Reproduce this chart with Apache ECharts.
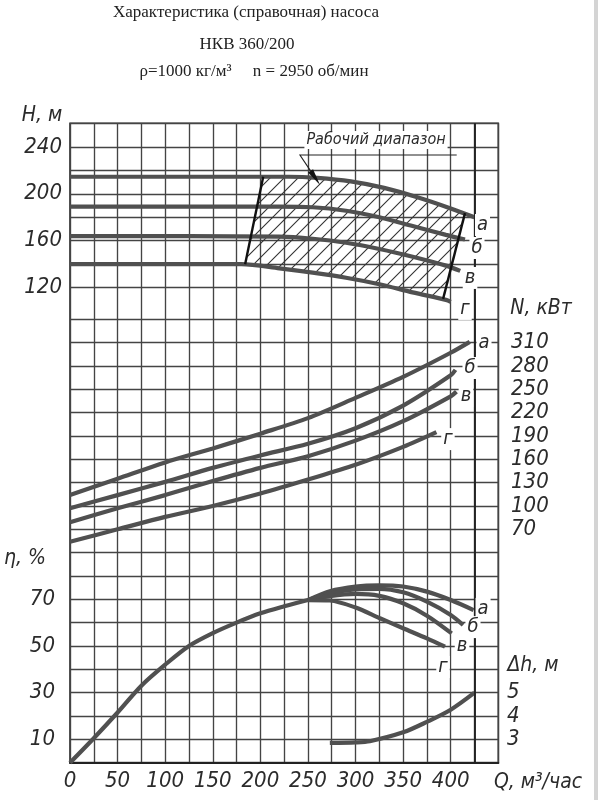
<!DOCTYPE html>
<html>
<head>
<meta charset="utf-8">
<title>НКВ 360/200</title>
<script src="https://cdn.jsdelivr.net/npm/echarts@6.0.0/dist/echarts.min.js"></script>
<style>
    html, body { margin: 0; padding: 0; background: #fff; }
    #chart { width: 598px; height: 800px; }
</style>
</head>
<body>
<div id="chart"></div>
<script>
// напор H, м  (Q, м3/час -> H)
var headA = [[0, 214.5], [230, 214.5], [260, 213.5], [295, 210.5], [330, 205], [365, 197], [400, 187.5], [425, 180]];
var headB = [[0, 189], [220, 189], [255, 188.5], [290, 185.5], [325, 180], [360, 172.5], [395, 165], [415, 161]];
var headV = [[0, 164], [220, 163.5], [255, 161.7], [290, 158.3], [325, 153], [360, 146.4], [395, 138.8], [410, 134.3]];
var headG = [[0, 140], [180, 140], [220, 136.5], [255, 132.8], [290, 128.5], [325, 123], [360, 116], [395, 109.6], [400, 108]];
// границы рабочего диапазона
var zoneLeft = [[203, 214.5], [184, 140]];
var zoneRight = [[415, 183.5], [392, 110.5]];

// мощность N, кВт
var powerA = [[0, 114], [50, 135], [100, 156], [150, 174], [200, 193], [250, 213], [300, 239], [350, 266], [400, 297], [420, 311]];
var powerB = [[0, 97], [50, 114], [100, 131], [150, 149], [200, 165], [250, 180], [300, 200], [350, 229], [400, 268], [405, 275]];
var powerV = [[0, 79], [50, 97], [100, 114], [150, 132], [200, 149], [250, 164], [300, 184], [350, 209], [400, 241], [406, 247]];
var powerG = [[0, 54], [50, 70], [100, 86], [150, 100], [200, 116], [250, 134], [300, 153], [350, 176], [385, 195]];

// КПД, %
var effBase = [[0, 0], [25, 10.5], [50, 21.5], [75, 33], [100, 42], [125, 50], [150, 55.5], [175, 60], [200, 64], [225, 67], [250, 69.7]];
var effA = [[250, 69.7], [273, 73.5], [300, 75.5], [325, 76], [350, 75.5], [375, 73.3], [400, 69.7], [424, 65.4]];
var effB = [[250, 69.7], [273, 72.5], [300, 74.3], [325, 74.5], [350, 73], [375, 69], [400, 63.3], [413, 59]];
var effV = [[250, 69.7], [273, 71.4], [300, 72.3], [325, 71.5], [350, 68.3], [375, 63], [401, 55.4]];
var effG = [[250, 69.7], [273, 69.5], [300, 66.5], [325, 62], [350, 57.6], [375, 53.3], [394, 49.7]];

// допускаемый кавитационный запас, м
var npsh = [[273, 2.85], [300, 2.87], [315, 2.92], [350, 3.3], [375, 3.75], [400, 4.27], [425, 5.0]];

// подписи шкал
var qLabels = [0, 50, 100, 150, 200, 250, 300, 350, 400];
var hLabels = [120, 160, 200, 240];
var nLabels = [70, 100, 130, 160, 190, 220, 250, 280, 310];
var etaLabels = [10, 30, 50, 70];
var dhLabels = [3, 4, 5];

// обозначения кривых и где их подписать
var curveNames = ['а', 'б', 'в', 'г'];
var headTags = [[433.4, 173.4], [427.6, 153.8], [420.3, 128.3], [415, 101.9]];
var powerTags = [[435, 309.5], [420.3, 277.4], [416, 241.4], [397.1, 186]];
var effTags = [[434, 65.9], [423.4, 58.1], [411.9, 50], [391.9, 41]];
// выноска "Рабочий диапазон"
var zoneNote = { text: 'Рабочий диапазон', at: [321.5, 245.8], line: [[406.3, 233], [241.6, 233]], tip: [262.7, 207.5] };

(function () {
    var myChart = echarts.init(document.getElementById('chart'));
    var ink = '#2b2b2b';
    var curveColor = '#505050';
    var gridColor = '#444';
    var drawFont = '"DejaVu Sans Condensed", "Liberation Sans Narrow", "DejaVu Sans", sans-serif';

    var plotLeft = 70, plotWidth = 428.3;

    // штриховка рабочей зоны
    var hatch = document.createElement('canvas');
    hatch.width = 14; hatch.height = 14;
    var ctx = hatch.getContext('2d');
    ctx.strokeStyle = '#333';
    ctx.lineWidth = 1.1;
    ctx.beginPath();
    ctx.moveTo(0, 14); ctx.lineTo(14, 0);
    ctx.moveTo(-2, 2); ctx.lineTo(2, -2);
    ctx.moveTo(12, 16); ctx.lineTo(16, 12);
    ctx.stroke();

    function zonePolygon() {
        var top = headA.filter(function (p) { return p[0] > zoneLeft[0][0] && p[0] < zoneRight[0][0]; });
        var bottom = headG.filter(function (p) { return p[0] > zoneLeft[1][0] && p[0] < zoneRight[1][0]; }).reverse();
        return [zoneLeft[0]].concat(top, [zoneRight[0], zoneRight[1]], bottom, [zoneLeft[1]]);
    }

    function curve(data, yIndex, z) {
        return {
            type: 'line', xAxisIndex: yIndex === 1 ? 1 : 2, yAxisIndex: yIndex,
            data: data, symbol: 'none', smooth: 0.3,
            clip: false, silent: true, z: z || 3,
            lineStyle: { color: curveColor, width: 4.2 }
        };
    }
    function border(data) {
        return {
            type: 'line', xAxisIndex: 1, yAxisIndex: 1, data: data, symbol: 'none',
            clip: false, silent: true, z: 4, lineStyle: { color: '#111', width: 2.4 }
        };
    }
    // оси только задают масштаб и сетку, подписи делений рисуются курсивом ниже
    function scale(grid, min, max, interval, pos, split) {
        return {
            gridIndex: grid, type: 'value', min: min, max: max, interval: interval, position: pos,
            axisLine: { show: false }, axisTick: { show: false }, axisLabel: { show: false },
            splitLine: { show: !!split, lineStyle: { color: gridColor, width: 1.35 } }
        };
    }

    var option = {
        animation: false,
        backgroundColor: '#fff',
        grid: [
            { left: plotLeft, top: 123.3, width: plotWidth, height: 639.4, show: true, borderColor: '#2a2a2a', borderWidth: 1.6 },
            { left: plotLeft, top: 123.3, width: plotWidth, height: 164.4 },
            { left: plotLeft, top: 319.3, width: plotWidth, height: 443.4 }
        ],
        xAxis: [
            {
                gridIndex: 0, type: 'value', min: 0, max: 450, interval: 25,
                axisLine: { show: true, lineStyle: { color: '#222', width: 2 } },
                axisTick: { show: false }, axisLabel: { show: false },
                splitLine: { show: true, lineStyle: { color: gridColor, width: 1.35 } }
            },
            { gridIndex: 1, type: 'value', min: 0, max: 450, show: false },
            { gridIndex: 2, type: 'value', min: 0, max: 450, show: false }
        ],
        yAxis: [
            { gridIndex: 0, type: 'value', min: 0, max: 1, show: false },
            scale(1, 120, 260, 20, 'left', true),     // H
            scale(2, 0, 190, 10, 'left', true),       // η
            scale(2, -230, 340, 30, 'right', false),  // N
            scale(2, 2, 21, 1, 'right', false)        // Δh
        ],
        series: [
            {
                type: 'custom', xAxisIndex: 1, yAxisIndex: 1, data: [[0, 0]], silent: true, z: 1,
                renderItem: function (params, api) {
                    return {
                        type: 'polygon',
                        shape: { points: zonePolygon().map(function (p) { return api.coord(p); }) },
                        style: { fill: { image: hatch, repeat: 'repeat' }, stroke: null }
                    };
                }
            },
            curve(headA, 1), curve(headB, 1), curve(headV, 1), curve(headG, 1),
            border(zoneLeft), border(zoneRight),
            curve(powerA, 3), curve(powerB, 3), curve(powerV, 3), curve(powerG, 3),
            curve(effBase, 2), curve(effA, 2), curve(effB, 2), curve(effV, 2), curve(effG, 2),
            curve(npsh, 4),
            {
                // усиленная линия Q = 425 через всё поле
                type: 'line', xAxisIndex: 0, yAxisIndex: 0, data: [], silent: true,
                markLine: {
                    silent: true, symbol: 'none', label: { show: false },
                    lineStyle: { color: '#222', width: 1.9, type: 'solid' },
                    data: [{ xAxis: 425 }]
                }
            }
        ]
    };
    myChart.setOption(option);

    // подписи осей, кривых и выноска
    var g = [];
    function text(str, x, y, size, extra) {
        var st = {
            text: str, font: 'italic ' + size + 'px ' + drawFont, fill: ink,
            align: 'center', verticalAlign: 'middle', textAlign: 'center', textVerticalAlign: 'middle'
        };
        if (extra) Object.assign(st, extra);
        g.push({ type: 'text', x: x, y: y, z: 20, style: st });
    }
    var serif = '"Liberation Serif", "DejaVu Serif", serif';
    function title(str, x, y) {
        g.push({ type: 'text', x: x, y: y, z: 20, style: {
            text: str, font: '17px ' + serif, fill: '#222',
            align: 'center', verticalAlign: 'middle', textAlign: 'center', textVerticalAlign: 'middle'
        } });
    }
    title('Характеристика (справочная) насоса', 246, 13);
    title('НКВ 360/200', 247, 45);
    title('ρ=1000 кг/м³     n = 2950 об/мин', 254, 72);

    // деления шкал
    function tickLabels(list, yAxisIndex, x, align) {
        list.forEach(function (v) {
            var py = myChart.convertToPixel({ yAxisIndex: yAxisIndex }, v);
            text(String(v), x, py, 22, { align: align, textAlign: align });
        });
    }
    qLabels.forEach(function (v) {
        var px = myChart.convertToPixel({ xAxisIndex: 0 }, v);
        text(String(v), px, 781, 22);
    });
    tickLabels(hLabels, 1, 62, 'right');
    tickLabels(etaLabels, 2, 55, 'right');
    tickLabels(nLabels, 3, 511, 'left');
    tickLabels(dhLabels, 4, 507, 'left');

    text('H, м', 42, 116, 21);
    text('N, кВт', 541, 309, 21);
    text('η, %', 25, 559, 21);
    text('Δh, м', 533, 666, 21);
    text('Q, м³/час', 538, 783, 21);

    function tags(list, xi, yi) {
        list.forEach(function (p, i) {
            var px = myChart.convertToPixel({ xAxisIndex: xi, yAxisIndex: yi }, p);
            text(curveNames[i], px[0], px[1], 20, { backgroundColor: '#fff', padding: [1, 2] });
        });
    }
    tags(headTags, 1, 1);
    tags(powerTags, 2, 3);
    tags(effTags, 2, 2);

    function toPx(p) { return myChart.convertToPixel({ xAxisIndex: 1, yAxisIndex: 1 }, p); }
    var at = toPx(zoneNote.at);
    text(zoneNote.text, at[0], at[1], 16, { backgroundColor: '#fff', padding: [1, 2] });
    var a = toPx(zoneNote.line[0]), s = toPx(zoneNote.line[1]), t = toPx(zoneNote.tip);
    var dx = t[0] - s[0], dy = t[1] - s[1], len = Math.sqrt(dx * dx + dy * dy);
    var ux = dx / len, uy = dy / len;
    var bx = t[0] - ux * 17, by = t[1] - uy * 17;
    g.push({ type: 'polyline', z: 20, shape: { points: [a, s, [bx, by]] }, style: { stroke: '#222', lineWidth: 1.1, fill: null } });
    g.push({ type: 'polygon', z: 20, shape: { points: [t, [bx - uy * 3, by + ux * 3], [bx + uy * 3, by - ux * 3]] }, style: { fill: '#111' } });

    g.push({ type: 'rect', z: 20, shape: { x: 594, y: 0, width: 4, height: 800 }, style: { fill: '#d4d4d4' } });

    myChart.setOption({ graphic: g });

    window.addEventListener('resize', function () {
        myChart.resize();
    });
})();
</script>
</body>
</html>
